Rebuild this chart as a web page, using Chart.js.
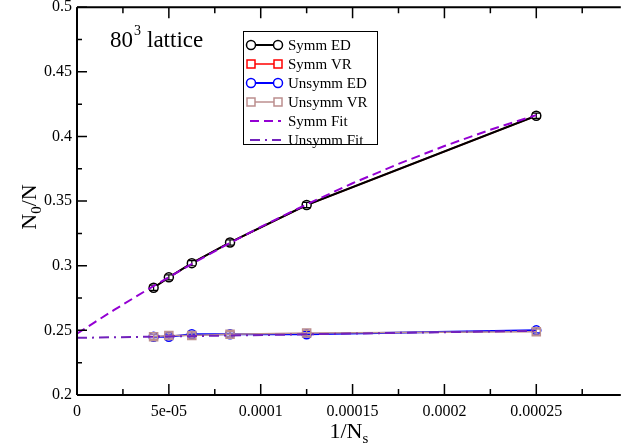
<!DOCTYPE html>
<html>
<head>
<meta charset="utf-8">
<script src="https://cdn.jsdelivr.net/npm/chart.js@4.4.1/dist/chart.umd.min.js"></script>
<style>
  html, body { margin: 0; padding: 0; background: #fff; }
  #wrap { width: 628px; height: 444px; }
</style>
</head>
<body>
<div id="wrap"><canvas id="chart" width="628" height="444"></canvas></div>
<script>
// 1/Ns for the six lattice sizes
var invNs = [0.0000417, 0.00005, 0.0000625, 0.0000833, 0.000125, 0.00025];

var symmED   = [0.283, 0.291, 0.302, 0.318, 0.347, 0.416];
var symmVR   = [0.283, 0.291, 0.302, 0.318, 0.347, 0.416];
var unsymmED = [0.245, 0.245, 0.247, 0.247, 0.247, 0.250];
var unsymmVR = [0.245, 0.246, 0.246, 0.247, 0.248, 0.249];
var symmErr   = [0.002, 0.002, 0.002, 0.002, 0.002, 0.002];
var unsymmErr = [0.002, 0.002, 0.002, 0.002, 0.002, 0.002];

// fit curves
var symmFitX = [0, 0.00001, 0.00002, 0.00003, 0.00004, 0.00005, 0.00006, 0.00008, 0.0001,
                0.000125, 0.00015, 0.000175, 0.0002, 0.000225, 0.00025];
var symmFit  = [0.2475, 0.2566, 0.2656, 0.2743, 0.2829, 0.2912, 0.2994, 0.3151, 0.3300,
                0.3475, 0.3638, 0.3788, 0.3926, 0.4052, 0.4165];
var unsymmFitX = [0, 0.00025];
var unsymmFit  = [0.2442, 0.2497];

var legendNames = ['Symm ED', 'Symm VR', 'Unsymm ED', 'Unsymm VR', 'Symm Fit', 'Unsymm Fit'];

var xTickValues = [0, 0.00005, 0.0001, 0.00015, 0.0002, 0.00025];
var xTickLabels = ['0', '5e-05', '0.0001', '0.00015', '0.0002', '0.00025'];
var xMinorTicks = [0.000025, 0.000075, 0.000125, 0.000175, 0.000225, 0.000275];
var yTickValues = [0.2, 0.25, 0.3, 0.35, 0.4, 0.45, 0.5];
var yTickLabels = ['0.2', '0.25', '0.3', '0.35', '0.4', '0.45', '0.5'];
var yMinorTicks = [0.225, 0.275, 0.325, 0.375, 0.425, 0.475];

var SERIF = '"Liberation Serif", "Times New Roman", serif';

function pts(xs, ys) {
    return xs.map(function (x, i) { return { x: x, y: ys[i] }; });
}

// vertical error bars with caps, drawn over each dataset's markers
var errorBars = {
    id: 'errorBars',
    afterDatasetDraw: function (chart, args) {
        var ds = chart.data.datasets[args.index];
        if (!ds.errors) return;
        var ctx = chart.ctx, ys = chart.scales.y;
        ctx.save();
        ctx.strokeStyle = ds.borderColor;
        ctx.lineWidth = 1.2;
        args.meta.data.forEach(function (p, i) {
            var v = ds.data[i].y, e = ds.errors[i];
            var top = ys.getPixelForValue(v + e), bot = ys.getPixelForValue(v - e);
            ctx.beginPath();
            ctx.moveTo(p.x, top); ctx.lineTo(p.x, bot);
            ctx.moveTo(p.x - 4, top); ctx.lineTo(p.x + 4, top);
            ctx.moveTo(p.x - 4, bot); ctx.lineTo(p.x + 4, bot);
            ctx.stroke();
        });
        ctx.restore();
    }
};

function marker(ctx, style, x, y, color) {
    ctx.strokeStyle = color;
    ctx.lineWidth = 1.5;
    ctx.setLineDash([]);
    ctx.beginPath();
    if (style === 'circle') {
        ctx.arc(x, y, 4.5, 0, Math.PI * 2);
    } else {
        ctx.rect(x - 4, y - 4, 8, 8);
    }
    ctx.fillStyle = '#fff';
    ctx.fill();
    ctx.stroke();
}

// frame, inward ticks, labels, titles and the legend box
var decorations = {
    id: 'decorations',
    afterDraw: function (chart) {
        var ctx = chart.ctx, a = chart.chartArea;
        var xs = chart.scales.x, ys = chart.scales.y;
        ctx.save();

        ctx.strokeStyle = '#000';
        ctx.lineWidth = 2;
        ctx.beginPath();
        ctx.moveTo(a.left, a.top); ctx.lineTo(a.right, a.top);
        ctx.moveTo(a.left, a.top); ctx.lineTo(a.left, a.bottom);
        ctx.moveTo(a.left, a.bottom); ctx.lineTo(a.right, a.bottom);
        ctx.stroke();

        ctx.lineWidth = 1.5;
        ctx.beginPath();
        xTickValues.forEach(function (v) {
            var px = xs.getPixelForValue(v);
            ctx.moveTo(px, a.bottom); ctx.lineTo(px, a.bottom - 11);
            ctx.moveTo(px, a.top); ctx.lineTo(px, a.top + 11);
        });
        xMinorTicks.forEach(function (v) {
            var px = xs.getPixelForValue(v);
            ctx.moveTo(px, a.bottom); ctx.lineTo(px, a.bottom - 6);
            ctx.moveTo(px, a.top); ctx.lineTo(px, a.top + 6);
        });
        yTickValues.forEach(function (v) {
            var py = ys.getPixelForValue(v);
            ctx.moveTo(a.left, py); ctx.lineTo(a.left + 10, py);
        });
        yMinorTicks.forEach(function (v) {
            var py = ys.getPixelForValue(v);
            ctx.moveTo(a.left, py); ctx.lineTo(a.left + 5, py);
        });
        ctx.stroke();

        ctx.fillStyle = '#000';
        ctx.font = '16px ' + SERIF;
        ctx.textAlign = 'center';
        ctx.textBaseline = 'top';
        xTickValues.forEach(function (v, i) {
            ctx.fillText(xTickLabels[i], xs.getPixelForValue(v), a.bottom + 9);
        });
        ctx.textAlign = 'right';
        ctx.textBaseline = 'middle';
        yTickValues.forEach(function (v, i) {
            ctx.fillText(yTickLabels[i], a.left - 5, ys.getPixelForValue(v));
        });

        // x title: 1/N_s
        ctx.textBaseline = 'alphabetic';
        ctx.textAlign = 'left';
        ctx.font = '22px ' + SERIF;
        var w1 = ctx.measureText('1/N').width;
        ctx.font = '15px ' + SERIF;
        var w2 = ctx.measureText('s').width;
        var x0 = (a.left + a.right) / 2 - (w1 + w2) / 2;
        ctx.font = '22px ' + SERIF;
        ctx.fillText('1/N', x0, 438);
        ctx.font = '15px ' + SERIF;
        ctx.fillText('s', x0 + w1, 443);

        // y title: N_0/N
        ctx.save();
        ctx.translate(36, 207);
        ctx.rotate(-Math.PI / 2);
        ctx.font = '22px ' + SERIF;
        var n1 = ctx.measureText('N').width, n3 = ctx.measureText('/N').width;
        ctx.font = '15px ' + SERIF;
        var n2 = ctx.measureText('0').width;
        var start = -(n1 + n2 + n3) / 2;
        ctx.font = '22px ' + SERIF;
        ctx.fillText('N', start, 0);
        ctx.fillText('/N', start + n1 + n2, 0);
        ctx.font = '15px ' + SERIF;
        ctx.fillText('0', start + n1, 5);
        ctx.restore();

        // 80^3 lattice
        ctx.font = '23px ' + SERIF;
        ctx.fillText('80', 110, 47);
        var w80 = ctx.measureText('80').width;
        ctx.font = '14px ' + SERIF;
        ctx.fillText('3', 110 + w80 + 1, 35);
        ctx.font = '23px ' + SERIF;
        ctx.fillText('lattice', 147, 47);

        // legend
        ctx.lineWidth = 1;
        ctx.strokeStyle = '#000';
        ctx.fillStyle = '#fff';
        ctx.fillRect(243.5, 31.5, 134, 113);
        ctx.strokeRect(243.5, 31.5, 134, 113);
        var rowY = [45, 64, 83, 102, 121, 140];
        chart.data.datasets.forEach(function (ds) {
            var k = legendNames.indexOf(ds.label);
            var y = rowY[k];
            ctx.strokeStyle = ds.borderColor;
            ctx.lineWidth = ds.borderWidth;
            ctx.setLineDash(ds.borderDash || []);
            ctx.beginPath();
            if (ds.pointRadius > 0) {
                ctx.moveTo(255, y); ctx.lineTo(274, y);
            } else {
                ctx.moveTo(250, y); ctx.lineTo(281, y);
            }
            ctx.stroke();
            if (ds.pointRadius > 0) {
                marker(ctx, ds.pointStyle, 251, y, ds.borderColor);
                marker(ctx, ds.pointStyle, 278, y, ds.borderColor);
            }
            ctx.setLineDash([]);
            ctx.fillStyle = '#000';
            ctx.font = '15px ' + SERIF;
            ctx.textBaseline = 'middle';
            ctx.fillText(ds.label, 288, y + 1);
        });

        ctx.restore();
    }
};

var clear = 'rgba(0,0,0,0)';

new Chart(document.getElementById('chart'), {
    type: 'scatter',
    data: {
        datasets: [
            { label: legendNames[4], data: pts(symmFitX, symmFit), showLine: true, order: 0,
              borderColor: '#9400d3', borderWidth: 2, borderDash: [9, 5], pointRadius: 0 },
            { label: legendNames[5], data: pts(unsymmFitX, unsymmFit), showLine: true, order: 0,
              borderColor: '#7221bc', borderWidth: 2, borderDash: [10, 5, 2, 5], pointRadius: 0 },
            { label: legendNames[0], data: pts(invNs, symmED), errors: symmErr, showLine: true, order: 1,
              borderColor: '#000000', borderWidth: 2, pointStyle: 'circle', pointRadius: 4.5,
              pointBorderWidth: 1.5, pointBackgroundColor: '#ffffff' },
            { label: legendNames[3], data: pts(invNs, unsymmVR), errors: unsymmErr, showLine: true, order: 2,
              borderColor: '#bc8f8f', borderWidth: 1.5, pointStyle: 'rect', pointRadius: 5.7,
              pointBorderWidth: 1.5, pointBackgroundColor: clear },
            { label: legendNames[2], data: pts(invNs, unsymmED), errors: unsymmErr, showLine: true, order: 3,
              borderColor: '#0000ff', borderWidth: 2, pointStyle: 'circle', pointRadius: 4.5,
              pointBorderWidth: 1.5, pointBackgroundColor: clear },
            { label: legendNames[1], data: pts(invNs, symmVR), errors: symmErr, showLine: true, order: 4,
              borderColor: '#ff0000', borderWidth: 1.5, pointStyle: 'rect', pointRadius: 4.2,
              pointBorderWidth: 1.5, pointBackgroundColor: clear }
        ]
    },
    options: {
        responsive: false,
        animation: false,
        events: [],
        layout: { padding: { top: 5, right: 0, left: 0, bottom: 0 } },
        scales: {
            x: {
                type: 'linear', min: 0, max: 0.000296,
                grid: { display: false }, border: { display: false },
                ticks: { display: false },
                afterFit: function (s) { s.height = 49; }
            },
            y: {
                type: 'linear', min: 0.2, max: 0.5,
                grid: { display: false }, border: { display: false },
                ticks: { display: false },
                afterFit: function (s) { s.width = 77; }
            }
        },
        plugins: {
            legend: { display: false },
            tooltip: { enabled: false }
        }
    },
    plugins: [errorBars, decorations]
});
</script>
</body>
</html>
